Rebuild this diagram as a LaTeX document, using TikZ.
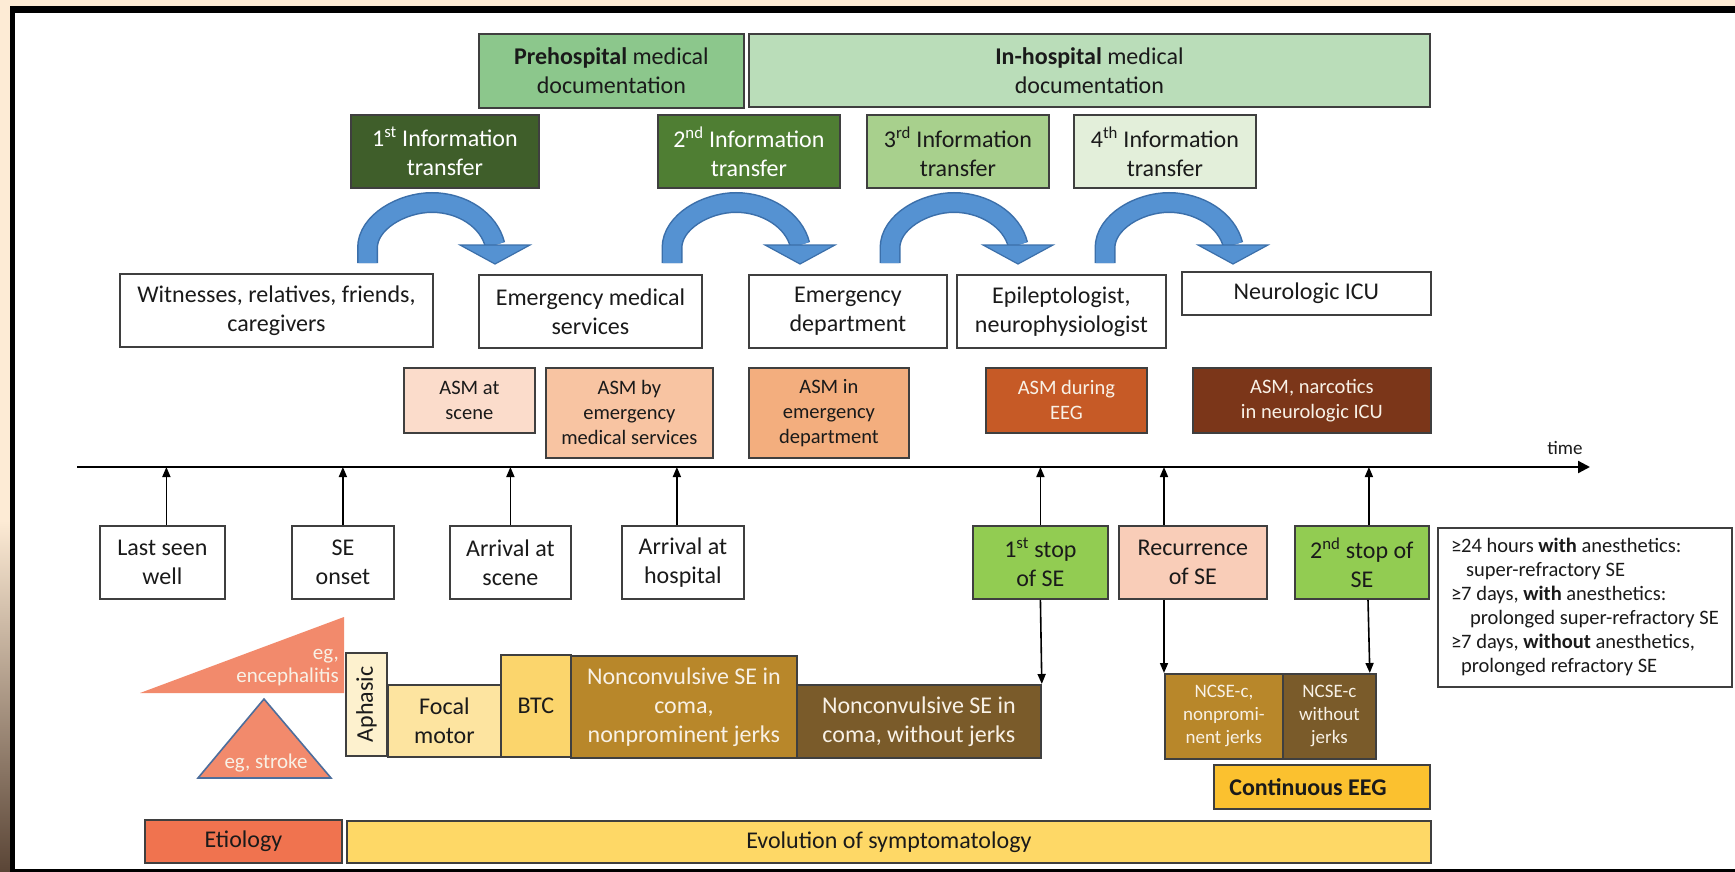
\documentclass[tikz,border=0pt]{standalone}
\usepackage{fontspec}
\setmainfont{Carlito}
\usetikzlibrary{arrows.meta,calc}
\definecolor{peach}{HTML}{FDEBD5}
\definecolor{stripdk}{HTML}{5A4536}
\definecolor{boxgray}{HTML}{3F3F3F}
\definecolor{txt}{HTML}{1A1A1A}
\definecolor{lightTxt}{HTML}{F8F1E6}
\definecolor{preG}{HTML}{8CC78C}
\definecolor{inhG}{HTML}{BADDB9}
\definecolor{iOneG}{HTML}{3F5E2A}
\definecolor{iTwoG}{HTML}{4F7E33}
\definecolor{iThreeG}{HTML}{A8D08D}
\definecolor{iFourG}{HTML}{E3EFDA}
\definecolor{asmA}{HTML}{FBDCCB}
\definecolor{asmB}{HTML}{F8C4A2}
\definecolor{asmC}{HTML}{F3AE7E}
\definecolor{asmD}{HTML}{C65A26}
\definecolor{asmE}{HTML}{7B3619}
\definecolor{stopG}{HTML}{92CC52}
\definecolor{recP}{HTML}{F9CDB8}
\definecolor{salmon}{HTML}{F28A6C}
\definecolor{triBlue}{HTML}{4D6E9C}
\definecolor{aphC}{HTML}{FDF1CE}
\definecolor{focC}{HTML}{FDE4A0}
\definecolor{btcC}{HTML}{FBD56C}
\definecolor{ncOne}{HTML}{B8872A}
\definecolor{ncTwo}{HTML}{7A5B2A}
\definecolor{ceegC}{HTML}{FBC12F}
\definecolor{etiC}{HTML}{F0734F}
\definecolor{evoC}{HTML}{FED866}
\definecolor{blueA}{HTML}{5592D2}
\definecolor{blueD}{HTML}{3B6FAA}
\tikzset{
  bx/.style={draw=boxgray, line width=1.8pt, inner sep=0pt, align=center,
    anchor=north west, text=txt, font=\fontsize{24pt}{29pt}\selectfont},
  fsmall/.style={font=\fontsize{20.5pt}{25pt}\selectfont},
  fncse/.style={font=\fontsize{19pt}{23pt}\selectfont},
  tar/.style={line width=1.6pt, draw=black, -{Triangle[length=10pt,width=8pt]}},
  bandO/.style={line width=21pt, draw=blueD},
  bandI/.style={line width=18pt, draw=blueA},
  headstyle/.style={fill=blueA, draw=blueD, line width=1.2pt, line join=miter}
}
\newcommand\rbox[7][]{%
  \pgfmathsetmacro\bw{#5-#3}\pgfmathsetmacro\bh{#6-#4}%
  \node[bx,#1,minimum width=\bw pt,minimum height=\bh pt] (#2) at (#3,#4) {#7};}
% arch: start (leg bottom), top, end (head base)
\newcommand\archpath[3]{(#1) -- ++(0,-15) .. controls +(0,-26) and +(-30,0) .. (#2) .. controls +(30,0) and +(-6,-25) .. (#3)}
\newcommand\infoarrow[3]{%
  \draw[bandO] \archpath{#1}{#2}{#3};
  \draw[bandI] \archpath{#1}{#2}{#3};
  \filldraw[headstyle] (#3) +(-35,0) -- +(35,0) -- +(0,19) -- cycle;}
\begin{document}
\begin{tikzpicture}[x=1pt,y=-1pt]
\useasboundingbox (0,0) rectangle (1735,872);
% background and frame
\fill[peach] (0,0) rectangle (1735,872);
\shade[top color=peach, bottom color=stripdk] (0,520) rectangle (10,872);
\fill[white] (15,13) rectangle (1735,869);
\fill[black] (10,6) rectangle (1735,13);
\fill[black] (10,6) rectangle (15,872);
\fill[black] (10,869) rectangle (1735,872);

% documentation
\rbox[fill=preG]{pre}{478}{33}{743}{107}{\textbf{Prehospital} medical\\documentation}
\rbox[fill=inhG]{inh}{748}{33}{1429}{106}{\textbf{In-hospital} medical\\documentation}

% information transfers
\rbox[fill=iOneG,text=white]{it1}{350}{114}{538}{187}{1\textsuperscript{st} Information\\transfer}
\rbox[fill=iTwoG,text=white]{it2}{657}{114}{839}{187}{2\textsuperscript{nd} Information\\transfer}
\rbox[fill=iThreeG]{it3}{866}{114}{1048}{187}{3\textsuperscript{rd} Information\\transfer}
\rbox[fill=iFourG]{it4}{1073}{114}{1255}{187}{4\textsuperscript{th} Information\\transfer}

% roles
\rbox[fill=white]{wit}{119}{273}{432}{346}{Witnesses, relatives, friends,\\caregivers}
\rbox[fill=white]{ems}{478}{274}{701}{347}{Emergency medical\\services}
\rbox[fill=white]{ed}{748}{274}{946}{347}{Emergency\\department}
\rbox[fill=white]{epi}{956}{274}{1165}{347}{Epileptologist,\\neurophysiologist}
\rbox[fill=white]{icu}{1181}{271}{1430}{314}{Neurologic ICU}

% transfer arrows
\coordinate (a1s) at (367.5,263); \coordinate (a1t) at (432,202.5); \coordinate (a1e) at (495,245);
\coordinate (a2s) at (672,263);   \coordinate (a2t) at (736,202.5); \coordinate (a2e) at (800,245);
\coordinate (a3s) at (890,263);   \coordinate (a3t) at (954,202.5); \coordinate (a3e) at (1018,245);
\coordinate (a4s) at (1105,263);  \coordinate (a4t) at (1169,202.5); \coordinate (a4e) at (1233,245);
\infoarrow{a1s}{a1t}{a1e}
\infoarrow{a2s}{a2t}{a2e}
\infoarrow{a3s}{a3t}{a3e}
\infoarrow{a4s}{a4t}{a4e}

% ASM
\rbox[fill=asmA,fsmall]{asm1}{403}{367}{534}{432}{ASM at\\scene}
\rbox[fill=asmB,fsmall]{asm2}{545}{367}{712}{457}{ASM by\\emergency\\medical services}
\rbox[fill=asmC,fsmall]{asm3}{748}{367}{908}{457}{ASM in\\emergency\\department}
\rbox[fill=asmD,fsmall,text=lightTxt]{asm4}{985}{367}{1146}{432}{ASM during\\EEG}
\rbox[fill=asmE,fsmall,text=lightTxt]{asm5}{1192}{367}{1430}{432}{ASM, narcotics\\in neurologic ICU}

% timeline
\coordinate (t0) at (77,467);
\coordinate (t1) at (1590,467);
\draw[line width=2.2pt, -{Triangle[length=12pt,width=12pt]}] (t0) -- (t1);
\node[font=\fontsize{19pt}{23pt}\selectfont, text=txt] (time) at (1565,448) {time};

% events
\rbox[fill=white]{lsw}{99}{525}{224}{598}{Last seen\\well}
\rbox[fill=white]{seo}{291}{525}{393}{598}{SE\\onset}
\rbox[fill=white]{aas}{449}{525}{570}{598}{Arrival at\\scene}
\rbox[fill=white]{aah}{621}{525}{743}{598}{Arrival at\\hospital}
\rbox[fill=stopG]{st1}{972}{525}{1107}{598}{1\textsuperscript{st} stop\\of SE}
\rbox[fill=recP]{rec}{1118}{525}{1266}{598}{Recurrence\\of SE}
\rbox[fill=stopG]{st2}{1294}{525}{1428}{598}{2\textsuperscript{nd} stop of\\SE}
\node[bx, fill=white, minimum width=294pt, minimum height=159pt, align=left,
      font=\fontsize{20.5pt}{24pt}\selectfont] (leg) at (1437,527)
  {≥24 hours \textbf{with} anesthetics:\\
   \hspace*{15pt}super-refractory SE\\
   ≥7 days, \textbf{with} anesthetics:\\
   \hspace*{19pt}prolonged super-refractory SE\\
   ≥7 days, \textbf{without} anesthetics,\\
   \hspace*{10pt}prolonged refractory SE};

\draw[tar] ([xshift=4pt]lsw.north) -- ([xshift=4pt]lsw.north |- t0);
\draw[tar] (seo.north) -- (seo.north |- t0);
\draw[tar] (aas.north) -- (aas.north |- t0);
\draw[tar] ([xshift=-6pt]aah.north) -- ([xshift=-6pt]aah.north |- t0);
\draw[tar] (st1.north) -- (st1.north |- t0);
\draw[tar] ([xshift=46pt]rec.north west) -- ([xshift=46pt]rec.north west |- t0);
\draw[tar] ([xshift=7pt]st2.north) -- ([xshift=7pt]st2.north |- t0);

% symptomatology
\fill[salmon] (140,693) -- (344,617) -- (344,693) -- cycle;
\node[anchor=east, align=right, inner sep=0pt, text=lightTxt,
      font=\fontsize{21pt}{23pt}\selectfont] (enc) at (339,668) {eg,\\encephalitis};
\filldraw[fill=salmon, draw=triBlue, line width=1.6pt, line join=miter] (264,699) -- (331,778) -- (198,778) -- cycle;
\node[inner sep=0pt, text=lightTxt, font=\fontsize{21pt}{23pt}\selectfont] (strk) at (266,763) {eg, stroke};

\node[bx, anchor=center, rotate=90, fill=aphC, minimum width=103pt, minimum height=41pt] (aph) at (366.5,704.5) {Aphasic};
\rbox[fill=focC]{foc}{387}{684}{500}{756}{Focal\\motor}
\rbox[fill=btcC]{btc}{500}{654}{570}{756}{BTC}
\rbox[fill=ncOne,text=lightTxt]{nc1}{570}{655}{796}{757}{Nonconvulsive SE in\\coma,\\nonprominent jerks}
\rbox[fill=ncTwo,text=lightTxt]{nc2}{796}{684}{1040}{757}{Nonconvulsive SE in\\coma, without jerks}
\rbox[fill=ncOne,text=lightTxt,fncse]{ncs1}{1164}{673}{1282}{758}{NCSE-c,\\nonpromi-\\nent jerks}
\rbox[fill=ncTwo,text=lightTxt,fncse]{ncs2}{1282}{673}{1375}{758}{NCSE-c\\without\\jerks}
\rbox[fill=ceegC]{ceeg}{1213}{764}{1429}{808}{\textbf{Continuous EEG}\hspace*{28pt}}
\rbox[fill=etiC]{eti}{144}{819}{341}{862}{Etiology}
\rbox[fill=evoC]{evo}{346}{820}{1430}{862}{Evolution of symptomatology}

\draw[tar] (st1.south) -- (nc2.north east);
\draw[tar] ([xshift=46pt]rec.south west) -- (ncs1.north west);
\draw[tar] ([xshift=74pt]st2.south west) -- ([xshift=-7pt]ncs2.north east);
\end{tikzpicture}
\end{document}
